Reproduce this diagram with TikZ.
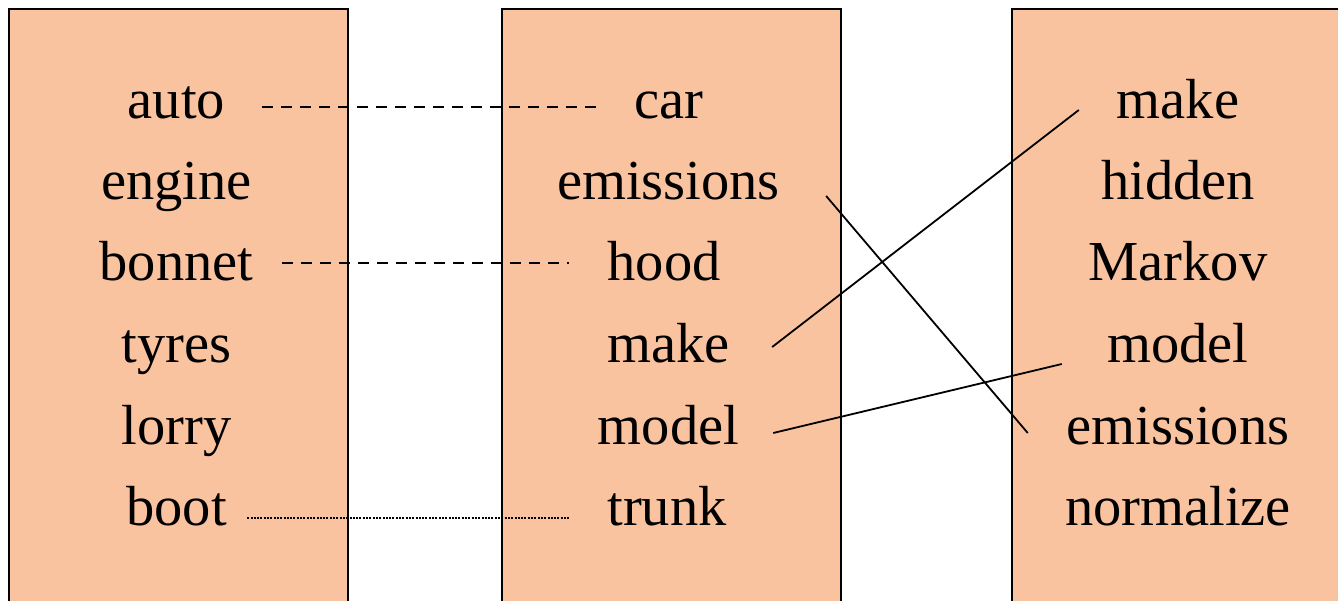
\documentclass[tikz,border=0pt]{standalone}
\usepackage{fontspec}
\setmainfont{Liberation Serif}
\usetikzlibrary{calc}
\definecolor{peach}{RGB}{250,195,160}
\tikzset{
  column/.style={draw=black, line width=2.2pt, fill=peach},
  word/.style={inner sep=0pt, anchor=base, font=\fontsize{56.5}{60}\selectfont},
  link/.style={line width=1.8pt},
  dashlink/.style={link, dash pattern=on 10.5pt off 8.5pt},
  dotlink/.style={line width=1.8pt, dash pattern=on 2pt off 1.3pt},
}
\begin{document}
\begin{tikzpicture}[x=1pt, y=1pt]
  \clip (0,0) rectangle (1338,600);
  \fill[white] (0,0) rectangle (1338,600);

  % three word lists
  \draw[column] (9,-20) rectangle (348,591);
  \draw[column] (502,-20) rectangle (841,591);
  \draw[column] (1012,-20) rectangle (1360,591);

  % left list
  \node[word] (auto)   at (176.5,481) {auto};
  \node[word] (engine) at (176.5,400) {engine};
  \node[word] (bonnet) at (176.5,319) {bonnet};
  \node[word] (tyres)  at (176.5,237) {tyres};
  \node[word] (lorry)  at (176.5,156) {lorry};
  \node[word] (boot)   at (176.5,75)  {boot};

  % middle list
  \node[word] (car)    at (668.5,481) {car};
  \node[word] (emisM)  at (668.5,400) {emissions};
  \node[word] (hood)   at (664,319)   {hood};
  \node[word] (makeM)  at (668.5,237) {make};
  \node[word] (modelM) at (668.5,156) {model};
  \node[word] (trunk)  at (667,75)    {trunk};

  % right list
  \node[word] (makeR)   at (1178,481) {make};
  \node[word] (hidden)  at (1178,400) {hidden};
  \node[word] (markov)  at (1178,319) {Markov};
  \node[word] (modelR)  at (1178,237) {model};
  \node[word] (emisR)   at (1178,156) {emissions};
  \node[word] (normal)  at (1178,75)  {normalize};

  % synonym links
  \draw[dashlink] ($(auto.base east)+(36.8,12)$) -- ($(car.base west)+(-30,12)$);
  \draw[dashlink] ($(bonnet.base east)+(28.6,18)$) -- ($(hood.base west)+(-38.5,18)$);
  \draw[dotlink]  ($(boot.base east)+(20.3,7)$) -- ($(trunk.base west)+(-38.4,7)$);

  % same-word links
  \draw[link] ($(emisM.base east)+(46,4)$) -- ($(emisR.base west)+(-38.6,11)$);
  \draw[link] ($(makeM.base east)+(42.3,16)$) -- ($(makeR.base west)+(-37.8,9)$);
  \draw[link] ($(modelM.base east)+(33.9,11)$) -- ($(modelR.base west)+(-45.4,-1)$);
\end{tikzpicture}
\end{document}
